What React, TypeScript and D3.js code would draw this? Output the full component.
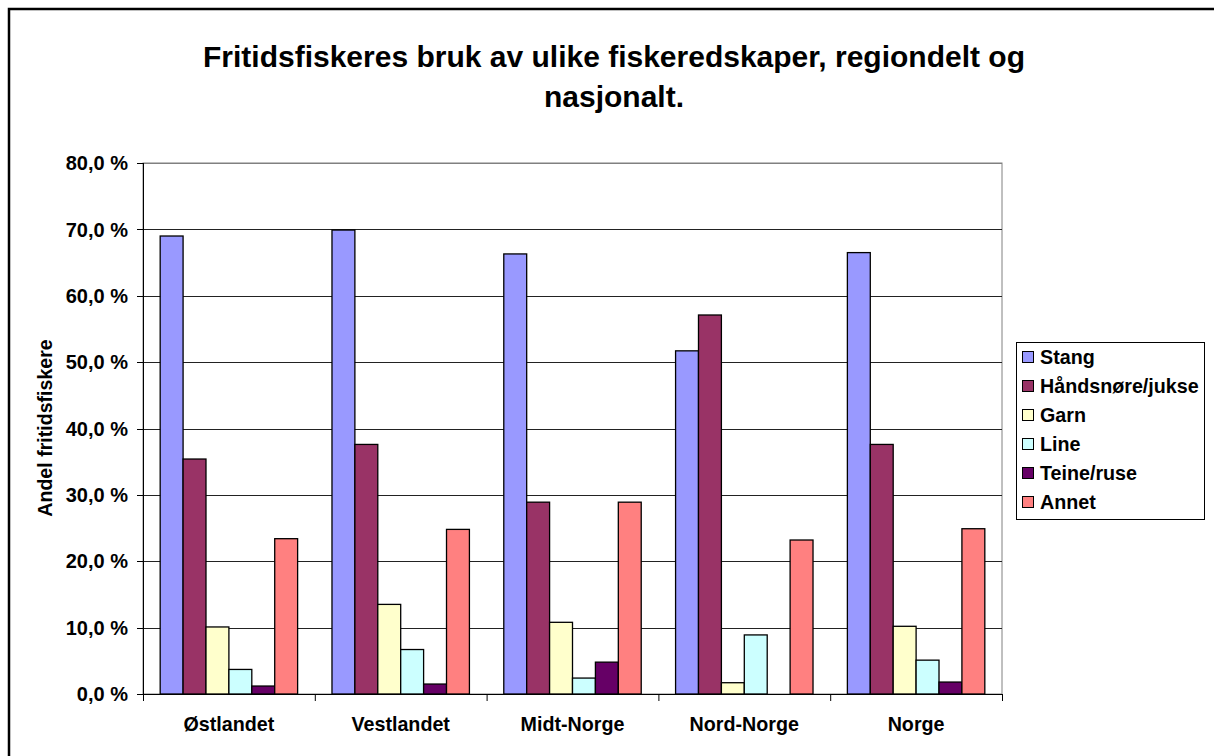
import * as d3 from 'd3'

// Andel fritidsfiskere (%) per redskap og region, lest av figuren
const categories = ['Østlandet', 'Vestlandet', 'Midt-Norge', 'Nord-Norge', 'Norge']
const seriesNames = ['Stang', 'Håndsnøre/jukse', 'Garn', 'Line', 'Teine/ruse', 'Annet']
const seriesColors = ['#9999FF', '#993366', '#FFFFCC', '#CCFFFF', '#660066', '#FF8080']

const stang = [69.0, 69.9, 66.3, 51.7, 66.5]
const handsnore = [35.4, 37.6, 28.9, 57.1, 37.6]
const garn = [10.1, 13.5, 10.8, 1.7, 10.2]
const line = [3.7, 6.7, 2.4, 8.9, 5.1]
const teine = [1.2, 1.5, 4.8, 0, 1.8]
const annet = [23.4, 24.8, 28.9, 23.2, 24.9]

const seriesValues = [stang, handsnore, garn, line, teine, annet]
const yTicks = [0, 10, 20, 30, 40, 50, 60, 70, 80]

const titleLines = ['Fritidsfiskeres bruk av ulike fiskeredskaper, regiondelt og', 'nasjonalt.']

const FONT = 'Liberation Sans, Arial, Helvetica, sans-serif'

export default function App() {
  const W = 1214
  const H = 756
  const plot = { left: 143, right: 1002, top: 163, bottom: 694 }

  const x = d3.scaleBand<string>().domain(categories).range([plot.left, plot.right]).padding(0)
  const xInner = d3
    .scaleBand<string>()
    .domain(seriesNames)
    .range([0, x.bandwidth()])
    .paddingInner(0)
    .paddingOuter(0.75)
  const y = d3.scaleLinear().domain([0, 80]).range([plot.bottom, plot.top])

  const fmt = (v: number) => `${v.toFixed(1).replace('.', ',')} %`

  const legend = { x: 1016, y: 342, w: 188, h: 177, first: 357, step: 29 }

  return (
    <svg
      width={W}
      height={H}
      style={{ position: 'fixed', left: 0, top: 0, background: '#fff' }}
      fontFamily={FONT}
      fontWeight="bold"
    >
      {/* outer chart border */}
      <rect x={9} y={9} width={W + 20} height={H + 20} fill="#fff" stroke="#000" strokeWidth={2.5} />

      {/* title */}
      {titleLines.map((t, i) => (
        <text key={t} x={614} y={67 + i * 40} textAnchor="middle" fontSize={30}>
          {t}
        </text>
      ))}

      {/* plot frame + gridlines */}
      <rect
        x={plot.left}
        y={plot.top}
        width={plot.right - plot.left}
        height={plot.bottom - plot.top}
        fill="#fff"
        stroke="#808080"
        strokeWidth={1}
      />
      {yTicks.slice(1).map((t) => (
        <line
          key={t}
          x1={plot.left}
          x2={plot.right}
          y1={Math.round(y(t)) + 0.5}
          y2={Math.round(y(t)) + 0.5}
          stroke={t === 80 ? '#808080' : '#222'}
          strokeWidth={1}
        />
      ))}

      {/* bars */}
      {seriesValues.map((vals, si) =>
        vals.map((v, ci) =>
          v > 0 ? (
            <rect
              key={`${si}-${ci}`}
              x={(x(categories[ci]) ?? 0) + (xInner(seriesNames[si]) ?? 0)}
              y={y(v)}
              width={xInner.bandwidth()}
              height={y(0) - y(v)}
              fill={seriesColors[si]}
              stroke="#000"
              strokeWidth={1.3}
            />
          ) : null
        )
      )}

      {/* y axis */}
      <line x1={plot.left + 0.5} x2={plot.left + 0.5} y1={plot.top} y2={plot.bottom} stroke="#000" />
      {yTicks.map((t) => (
        <g key={t}>
          <line x1={plot.left - 6} x2={plot.left} y1={Math.round(y(t)) + 0.5} y2={Math.round(y(t)) + 0.5} stroke="#000" />
          <text x={128} y={y(t)} dy="0.36em" textAnchor="end" fontSize={20}>
            {fmt(t)}
          </text>
        </g>
      ))}
      <text transform={`translate(52,428) rotate(-90)`} textAnchor="middle" fontSize={19.6}>
        Andel fritidsfiskere
      </text>

      {/* x axis */}
      <line x1={plot.left} x2={plot.right} y1={plot.bottom + 0.5} y2={plot.bottom + 0.5} stroke="#000" />
      {[...categories.map((c) => x(c) ?? 0), plot.right].map((bx, i) => (
        <line key={i} x1={bx + 0.5} x2={bx + 0.5} y1={plot.bottom} y2={plot.bottom + 7} stroke="#000" />
      ))}
      {categories.map((c) => (
        <text key={c} x={(x(c) ?? 0) + x.bandwidth() / 2} y={731} textAnchor="middle" fontSize={19.7}>
          {c}
        </text>
      ))}

      {/* legend */}
      <rect x={legend.x + 0.5} y={legend.y + 0.5} width={legend.w} height={legend.h} fill="#fff" stroke="#000" />
      {seriesNames.map((s, i) => (
        <g key={s} transform={`translate(${legend.x + 6},${legend.first + i * legend.step})`}>
          <rect x={0.5} y={-5.5} width={11} height={11} fill={seriesColors[i]} stroke="#000" />
          <text x={18} y={0} dy="0.36em" fontSize={19.7}>
            {s}
          </text>
        </g>
      ))}
    </svg>
  )
}
